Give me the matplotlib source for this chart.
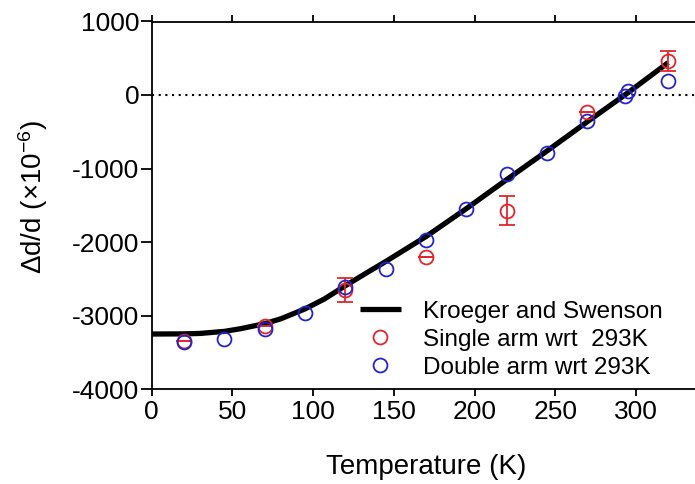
#!/usr/bin/env python
"""Thermal contraction vs temperature: Kroeger and Swenson curve plus measurements."""
import matplotlib.pyplot as plt
import numpy as np

plt.rcParams['font.family'] = ['Liberation Sans', 'DejaVu Sans']
plt.rcParams['axes.unicode_minus'] = False
plt.rcParams['mathtext.fontset'] = 'custom'
plt.rcParams['mathtext.rm'] = 'Liberation Sans'

# Kroeger and Swenson reference curve.
ks_temp = [0, 20, 30, 45, 55, 70, 80, 95, 107, 120, 132, 145, 170, 195, 220,
           245, 270, 295, 320]
ks_strain = [-3252, -3250, -3244, -3216, -3180, -3111, -3045, -2910, -2775,
             -2595, -2435, -2265, -1925, -1545, -1150, -760, -362, 30, 440]

# Single arm wrt 293K.
single_temp = [20, 70, 120, 170, 220, 270, 320]
single_strain = [-3352, -3148, -2650, -2205, -1572, -236, 466]
single_err = [0, 0, 160, 0, 200, 0, 136]

# Double arm wrt 293K.
double_temp = [20, 45, 70, 95, 120, 145, 170, 195, 220, 245, 270, 293, 295,
               320]
double_strain = [-3365, -3320, -3184, -2966, -2613, -2369, -1970, -1553,
                 -1073, -793, -353, -9, 54, 190]

RED = '#e0262b'
BLUE = '#2424c8'

fig = plt.figure(figsize=(6.95, 4.84), dpi=100)
ax = fig.add_axes([151.7 / 695, 1 - 389 / 484, 1 - 151.7 / 695,
                   (389 - 21.5) / 484])

ax.axhline(0, color='black', linestyle=(0, (1, 2.2)), linewidth=1.5, zorder=1)

ks_line, = ax.plot(ks_temp, ks_strain, color='black', linewidth=3.8,
                   solid_capstyle='butt', solid_joinstyle='round', zorder=2)

ax.errorbar(single_temp, single_strain, yerr=single_err, fmt='none',
            ecolor=RED, elinewidth=1.3, capsize=6, capthick=1.3, zorder=3)
single_pts, = ax.plot(single_temp, single_strain, 'o', markersize=10,
                      markerfacecolor='none', markeredgecolor=RED,
                      markeredgewidth=1.3, zorder=3)
double_pts, = ax.plot(double_temp, double_strain, 'o', markersize=10,
                      markerfacecolor='none', markeredgecolor=BLUE,
                      markeredgewidth=1.3, zorder=4)

ax.set_xlim(0, (695 - 151.7) / 1.614)
ax.set_ylim(-4000, 1000)
ax.set_xticks(np.arange(0, 301, 50))
ax.set_yticks(np.arange(-4000, 1001, 1000))

ax.spines['right'].set_visible(False)
for side in ['left', 'bottom', 'top']:
    ax.spines[side].set_linewidth(1.3)
ax.tick_params(axis='both', direction='out', width=1.3, labelsize=19)
ax.tick_params(axis='y', length=8, pad=1)
ax.tick_params(axis='x', length=5, pad=3, top=True, labeltop=False)

ax.set_xlabel('Temperature (K)', fontsize=20)
ax.xaxis.set_label_coords(0.506, -0.178)
ax.set_ylabel(r'Δd/d (×10$\mathregular{^{-6}}$)', fontsize=20)
ax.yaxis.set_label_coords(-0.187, 0.521)

ax.legend([ks_line, single_pts, double_pts],
          ['Kroeger and Swenson', 'Single arm wrt  293K',
           'Double arm wrt 293K'],
          loc='upper left', bbox_to_anchor=(0.3834, 0.240),
          frameon=False, fontsize=17.5, handlelength=1.68, handletextpad=0.92,
          labelspacing=0.25, borderpad=0, borderaxespad=0)

plt.savefig('out.png', dpi=100)
